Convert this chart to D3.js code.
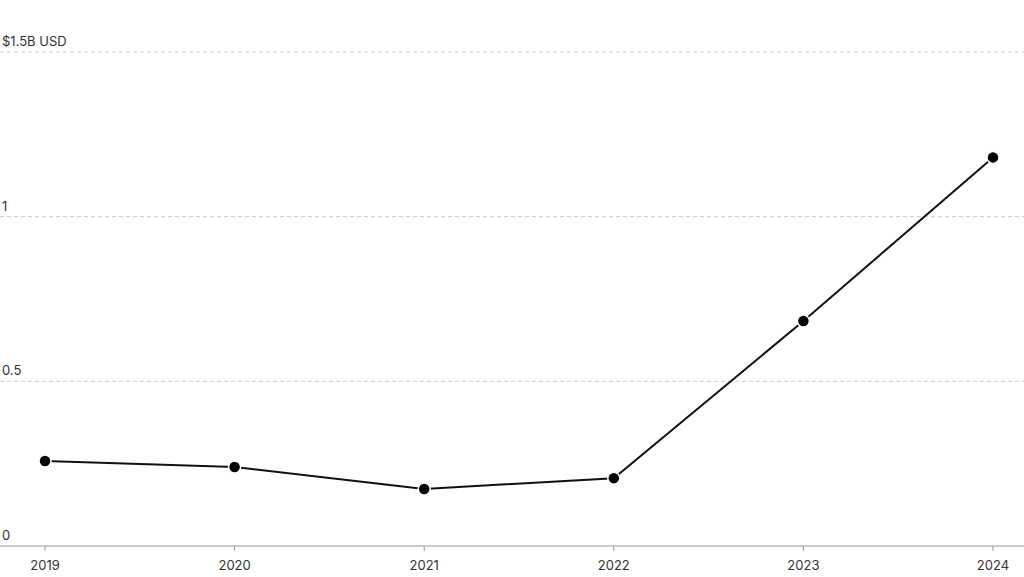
<!DOCTYPE html>
<html><head><meta charset="utf-8">
<script src="https://cdn.jsdelivr.net/npm/d3@7"></script>
<style>body{margin:0;background:#fff}text{font-family:Inter,"Noto Sans",sans-serif}</style>
</head><body><svg width="1024" height="577"></svg>
<script>
const years = ['2019', '2020', '2021', '2022', '2023', '2024']
const values = [0.258, 0.24, 0.173, 0.206, 0.683, 1.18]
const yTicks = [0, 0.5, 1, 1.5]
const yTickLabels = ['0', '0.5', '1', '$1.5B USD']

const svg = d3.select('svg')
const x = d3.scalePoint().domain(years).range([45, 993])
const y = d3.scaleLinear().domain([0, 1.5]).range([546, 52])

// grid lines + labels
yTicks.forEach((t, i) => {
  if (t > 0) svg.append('line').attr('x1', 0).attr('x2', 1024)
    .attr('y1', y(t)).attr('y2', y(t))
    .attr('stroke', '#ccc').attr('stroke-dasharray', '4,3')
  svg.append('text').attr('x', 2).attr('y', y(t) - 6)
    .attr('font-size', 13).attr('fill', '#333').text(yTickLabels[i])
})

// baseline with year ticks
svg.append('line').attr('x1', 0).attr('x2', 1024).attr('y1', y(0)).attr('y2', y(0)).attr('stroke', '#999')
svg.selectAll('.tick').data(years).enter().append('line')
  .attr('x1', d => x(d)).attr('x2', d => x(d)).attr('y1', y(0)).attr('y2', y(0) + 5).attr('stroke', '#999')
svg.selectAll('.yl').data(years).enter().append('text')
  .attr('x', d => x(d)).attr('y', 570).attr('text-anchor', 'middle')
  .attr('font-size', 13).attr('fill', '#333').text(d => d)

const line = d3.line().x((d, i) => x(years[i])).y(d => y(d))
svg.append('path').datum(values).attr('d', line).attr('fill', 'none').attr('stroke', '#111').attr('stroke-width', 2)
svg.selectAll('.dot').data(values).enter().append('circle')
  .attr('cx', (d, i) => x(years[i])).attr('cy', d => y(d)).attr('r', 6)
  .attr('fill', '#000').attr('stroke', '#fff').attr('stroke-width', 1.5)
</script></body></html>
